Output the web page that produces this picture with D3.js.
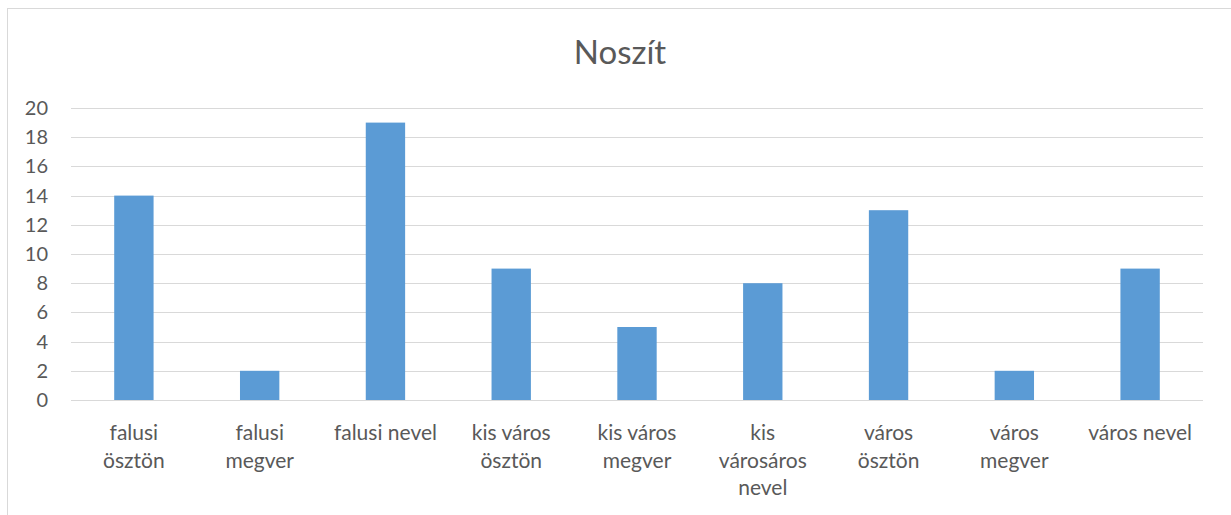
<!DOCTYPE html>
<html>
<head>
<meta charset="utf-8">
<script src="https://cdn.jsdelivr.net/npm/d3@7"></script>
<style>
  body { margin: 0; background: #fff; }
  text { font-family: Lato, "Open Sans", sans-serif; fill: #595959; }
</style>
</head>
<body>
<div id="chart"></div>
<script>
// data
var categories = ["falusi ösztön", "falusi megver", "falusi nevel", "kis város ösztön",
  "kis város megver", "kis városáros nevel", "város ösztön", "város megver", "város nevel"];
var labelLines = [["falusi", "ösztön"], ["falusi", "megver"], ["falusi nevel"], ["kis város", "ösztön"],
  ["kis város", "megver"], ["kis", "városáros", "nevel"], ["város", "ösztön"], ["város", "megver"], ["város nevel"]];
var values = [14, 2, 19, 9, 5, 8, 13, 2, 9];
var yTicks = [0, 2, 4, 6, 8, 10, 12, 14, 16, 18, 20];
var title = "Noszít";

var W = 1231, H = 515;
var margin = { top: 108, right: 28, bottom: 115, left: 71 },
    width = W - margin.left - margin.right,
    height = H - margin.top - margin.bottom;

var svg = d3.select("#chart").append("svg")
    .attr("width", W)
    .attr("height", H);

// chart border (Excel style)
svg.append("rect")
    .attr("x", 7.5).attr("y", 8.5)
    .attr("width", W).attr("height", H)
    .attr("fill", "none")
    .attr("stroke", "#d9d9d9");

svg.append("text")
    .attr("x", 620).attr("y", 64)
    .attr("text-anchor", "middle")
    .style("font-size", "33px")
    .text(title);

var g = svg.append("g")
    .attr("transform", "translate(" + margin.left + "," + margin.top + ")");

var x = d3.scaleBand()
    .domain(categories)
    .range([0, width])
    .paddingInner(0.687)
    .paddingOuter(0.3435);

var y = d3.scaleLinear()
    .domain([0, 20])
    .range([height, 0]);

// gridlines
g.append("g")
  .selectAll("line")
  .data(yTicks)
  .enter().append("line")
    .attr("x1", 0).attr("x2", width)
    .attr("y1", function(d) { return Math.round(y(d)) + 0.5; })
    .attr("y2", function(d) { return Math.round(y(d)) + 0.5; })
    .attr("stroke", "#d9d9d9")
    .attr("stroke-width", 1.2);

// y axis labels
var yAxis = g.append("g")
    .call(d3.axisLeft(y).tickValues(yTicks).tickSize(0).tickPadding(23));
yAxis.select(".domain").remove();
yAxis.selectAll("text")
    .style("font-size", "20px")
    .style("font-family", "Lato, 'Open Sans', sans-serif")
    .attr("fill", "#595959");

// bars
g.selectAll("rect.bar")
  .data(values)
  .enter().append("rect")
    .attr("class", "bar")
    .attr("x", function(d, i) { return x(categories[i]); })
    .attr("y", function(d) { return y(d); })
    .attr("width", x.bandwidth())
    .attr("height", function(d) { return height - y(d); })
    .attr("fill", "#5b9bd5");

// category labels
var xl = g.append("g")
  .selectAll("text")
  .data(labelLines)
  .enter().append("text")
    .attr("text-anchor", "middle")
    .attr("transform", function(d, i) {
      return "translate(" + (x(categories[i]) + x.bandwidth() / 2) + "," + (height + 40) + ")";
    })
    .style("font-size", "21px");

xl.selectAll("tspan")
  .data(function(d) { return d; })
  .enter().append("tspan")
    .attr("x", 0)
    .attr("dy", function(d, i) { return i === 0 ? 0 : 27.5; })
    .text(function(d) { return d; });
</script>
</body>
</html>
